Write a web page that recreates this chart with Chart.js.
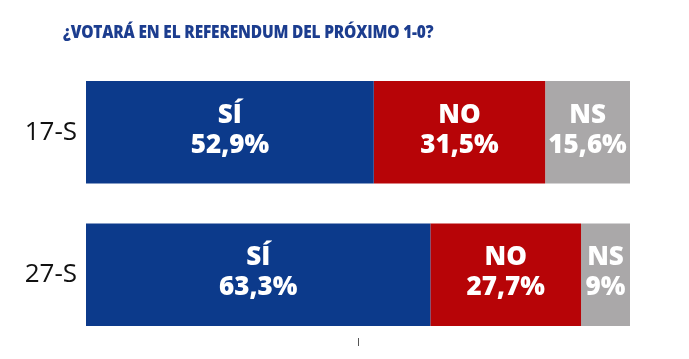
<!DOCTYPE html>
<html>
<head>
<meta charset="utf-8">
<script src="https://cdn.jsdelivr.net/npm/chart.js@4"></script>
<style>
  html, body { margin: 0; padding: 0; background: #fff; }
  #wrap { position: relative; width: 689px; height: 359px; }
  #titulo {
    position: absolute; left: 63px; top: 20px;
    font-family: "Open Sans", sans-serif; font-weight: 800; font-size: 17px;
    color: #1c3d8f; letter-spacing: -0.2px; white-space: nowrap;
    transform: scaleX(0.91); transform-origin: left top;
  }
  canvas { position: absolute; left: 0; top: 0; }
</style>
</head>
<body>
<div id="wrap">
  <canvas id="chart" width="689" height="359"></canvas>
  <div id="titulo">¿VOTARÁ EN EL REFERENDUM DEL PRÓXIMO 1-0?</div>
</div>
<script>
// encuesta: intencion de voto 1-O
const fechas = ["17-S", "27-S"];
const respuestas = ["SÍ", "NO", "NS"];
const valoresSi = [52.9, 63.3];
const valoresNo = [31.5, 27.7];
const valoresNs = [15.6, 9];
const colores = ["#0c3a8b", "#b70407", "#aaa8a9"];

const series = [valoresSi, valoresNo, valoresNs];

const datasets = respuestas.map((r, i) => ({
  label: r,
  data: series[i],
  backgroundColor: colores[i],
  borderWidth: 0,
  barPercentage: 0.72,
  categoryPercentage: 1
}));

// texto blanco dentro de cada tramo
const etiquetas = {
  id: "etiquetas",
  afterDatasetsDraw(chart) {
    const ctx = chart.ctx;
    ctx.save();
    ctx.fillStyle = "#ffffff";
    ctx.textAlign = "center";
    ctx.textBaseline = "middle";
    chart.data.datasets.forEach((ds, i) => {
      const meta = chart.getDatasetMeta(i);
      meta.data.forEach((bar, j) => {
        const cx = (bar.x + bar.base) / 2;
        const cy = bar.y;
        const valor = String(ds.data[j]).replace(".", ",") + "%";
        ctx.font = "800 26px 'Open Sans'";
        ctx.fillText(ds.label, cx, cy - 17);
        ctx.fillText(valor, cx, cy + 13);
      });
    });
    ctx.restore();
  }
};

const chart = new Chart(document.getElementById("chart").getContext("2d"), {
  type: "bar",
  data: { labels: fechas, datasets: datasets },
  options: {
    indexAxis: "y",
    responsive: false,
    animation: false,
    layout: { padding: { left: 0, right: 59, top: 61, bottom: 13 } },
    plugins: { legend: { display: false }, tooltip: { enabled: false } },
    scales: {
      x: {
        stacked: true,
        min: 0,
        max: 100,
        border: { display: false },
        grid: {
          drawOnChartArea: false,
          drawTicks: true,
          tickLength: -8,
          tickColor: "#555",
          tickWidth: 1
        },
        ticks: { display: false },
        afterBuildTicks: (scale) => { scale.ticks = [{ value: 50 }]; },
        afterFit: (scale) => { scale.height = 0; }
      },
      y: {
        stacked: true,
        border: { display: false },
        grid: { display: false, drawTicks: false },
        ticks: {
          color: "#111",
          padding: 9,
          font: { family: "Open Sans", size: 26, weight: "400" }
        },
        afterFit: (scale) => {
          scale.width = 86;
          scale.paddingTop = 0;
          scale.paddingBottom = 0;
        }
      }
    }
  },
  plugins: [etiquetas]
});
</script>
</body>
</html>
